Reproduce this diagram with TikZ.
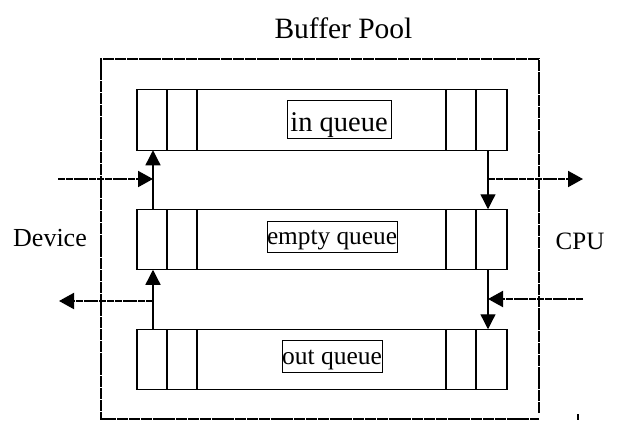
\documentclass[tikz,border=0pt]{standalone}
\usepackage{fontspec}
\setmainfont{Liberation Serif}
\usetikzlibrary{arrows.meta,calc}
\begin{document}
\begin{tikzpicture}[x=1pt,y=-1pt,
 queue/.style={draw,line width=1.3pt,minimum width=370pt,minimum height=60.5pt,inner sep=0pt,outer sep=0pt},
 qlabel/.style={draw,line width=1pt,inner sep=0pt,outer sep=0pt},
 divider/.style={line width=1.8pt},
 flow/.style={line width=1.3pt,-{Triangle[length=15pt,width=15pt]}},
 io/.style={line width=2pt,dash pattern=on 7pt off 0.8pt,-{Triangle[length=15pt,width=16pt]}},
 outerline/.style={line width=2pt,dash pattern=on 11pt off 0.8pt},
 lbl/.style={inner sep=0pt,outer sep=0pt}]
\useasboundingbox (0,0) rectangle (622,421);

% outer buffer pool frame
\draw[outerline] (539,413) -- (539,59) -- (101,59) -- (101,419) -- (539,419);
\draw[line width=2pt] (578,414) -- (578,420);

% titles
\node[lbl,anchor=base,font=\fontsize{29.5}{34}\selectfont] (title) at (343.5,38) {Buffer Pool};
\node[lbl,anchor=base,font=\fontsize{26}{30}\selectfont] (dev) at (50,246) {Device};
\node[lbl,anchor=base,font=\fontsize{25}{30}\selectfont] (cpu) at (580,249) {CPU};

% queues
\node[queue] (inq) at (322,120) {};
\node[queue] (emq) at (322,239.5) {};
\node[queue] (outq) at (322,359.5) {};

\foreach \q in {inq,emq,outq}{
  \draw[divider] ([xshift=30pt]\q.north west) -- ([xshift=30pt]\q.south west);
  \draw[divider] ([xshift=60pt]\q.north west) -- ([xshift=60pt]\q.south west);
  \draw[divider] ([xshift=-61pt]\q.north east) -- ([xshift=-61pt]\q.south east);
  \draw[divider] ([xshift=-31pt]\q.north east) -- ([xshift=-31pt]\q.south east);
}

% queue labels
\node[qlabel,font=\fontsize{28.5}{32}\selectfont,minimum width=104pt,text height=31pt,text depth=7pt] (inl) at (339,119) {in queue};
\node[qlabel,font=\fontsize{25.3}{30}\selectfont,minimum width=130pt,text height=23pt,text depth=8pt] (eml) at (332,236.5) {empty queue};
\node[qlabel,font=\fontsize{25.5}{30}\selectfont,minimum width=100pt,text height=24pt,text depth=8pt] (outl) at (332,356) {out queue};

% left side connectors
\coordinate (lv1) at ([xshift=16pt]inq.south west);
\coordinate (lv2) at ([xshift=16pt]emq.south west);
\draw[flow] (lv1 |- emq.north) -- (lv1);
\draw[flow] (lv2 |- outq.north) -- (lv2);
\coordinate (devin) at (58,179);
\coordinate (devout) at (59,301);
\draw[io] (devin) -- (devin -| lv1);
\draw[io] (devout -| lv2) -- (devout);

% right side connectors
\coordinate (rv1) at ([xshift=-19pt]inq.south east);
\coordinate (rv2) at ([xshift=-19pt]emq.south east);
\draw[flow] (rv1) -- (rv1 |- emq.north);
\draw[flow] (rv2) -- (rv2 |- outq.north);
\coordinate (cpuout) at (583,179);
\coordinate (cpuin) at (583,299);
\draw[io] (cpuout -| rv1) -- (cpuout);
\draw[io] (cpuin) -- (cpuin -| rv2);
\end{tikzpicture}
\end{document}
